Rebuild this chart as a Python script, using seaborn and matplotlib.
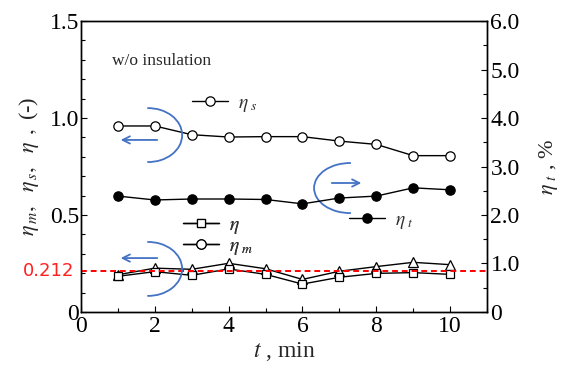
import matplotlib
matplotlib.use("Agg")
import matplotlib.pyplot as plt
from matplotlib.patches import Arc
from matplotlib.lines import Line2D
from matplotlib.ticker import MultipleLocator, FixedLocator, FixedFormatter
import numpy as np
import pandas as pd
import seaborn as sns

# data
t_min = [1, 2, 3, 4, 5, 6, 7, 8, 9, 10]
eta_s = [0.959, 0.959, 0.914, 0.902, 0.904, 0.904, 0.881, 0.864, 0.806, 0.806]
eta_t = [2.39, 2.31, 2.33, 2.33, 2.32, 2.23, 2.35, 2.39, 2.56, 2.52]   # %, right axis
eta = [0.184, 0.208, 0.189, 0.222, 0.194, 0.144, 0.179, 0.199, 0.203, 0.194]
eta_m = [0.192, 0.226, 0.220, 0.251, 0.223, 0.168, 0.210, 0.234, 0.256, 0.244]
eta_ref = 0.212

df = pd.DataFrame({'t': t_min, 'eta_s': eta_s, 'eta_t': eta_t, 'eta': eta, 'eta_m': eta_m})

sns.set_style('ticks')
plt.rcParams['font.family'] = ['Liberation Serif', 'DejaVu Serif']
plt.rcParams['mathtext.fontset'] = 'stix'

fig = plt.figure(figsize=(5.61, 3.69), dpi=100)
ax = fig.add_axes([0.1444, 0.1545, 0.7237, 0.7885])
ax2 = ax.twinx()

blue = '#4472C4'
line_kw = dict(color='black', linewidth=1.0, markeredgecolor='black', markeredgewidth=0.9)

# left axis series
sns.lineplot(data=df, x='t', y='eta_s', ax=ax, marker='o', markersize=6.7,
             markerfacecolor='white', zorder=3, **line_kw)
sns.lineplot(data=df, x='t', y='eta_m', ax=ax, marker='^', markersize=6.8,
             markerfacecolor='white', zorder=3, **line_kw)
sns.lineplot(data=df, x='t', y='eta', ax=ax, marker='s', markersize=6.2,
             markerfacecolor='white', zorder=4, **line_kw)
ax.axhline(eta_ref, color='#ff0000', linestyle=(0, (3, 2)), linewidth=1.4, zorder=5)

# right axis series
sns.lineplot(data=df, x='t', y='eta_t', ax=ax2, marker='o', markersize=6.7,
             markerfacecolor='black', zorder=3, **line_kw)

ax.set_xlim(0, 11)
ax.set_ylim(0, 1.5)
ax2.set_ylim(0, 6)

ax.set_xticks([0, 2, 4, 6, 8, 10])
ax.xaxis.set_minor_locator(MultipleLocator(1))
ax.yaxis.set_major_locator(FixedLocator([0, 0.5, 1.0, 1.5]))
ax.yaxis.set_major_formatter(FixedFormatter(['0', '0.5', '1.0', '1.5']))
ax.yaxis.set_minor_locator(MultipleLocator(0.1))
ax2.yaxis.set_major_locator(FixedLocator([0, 1, 2, 3, 4, 5, 6]))
ax2.yaxis.set_major_formatter(FixedFormatter(['0', '1.0', '2.0', '3.0', '4.0', '5.0', '6.0']))
ax2.yaxis.set_minor_locator(MultipleLocator(0.5))

for a in (ax, ax2):
    a.tick_params(which='both', direction='in', labelsize=17, colors='black', width=0.8)
    a.tick_params(which='major', length=4.5)
    a.tick_params(which='minor', length=3)
    for s in a.spines.values():
        s.set_visible(True)
        s.set_color('black')
        s.set_linewidth(1.0)
ax.tick_params(axis='y', which='both', left=True, right=False, pad=1.5)
ax.tick_params(axis='x', which='both', bottom=True, top=False, pad=3)
ax2.tick_params(axis='y', which='both', right=True, left=False, pad=2.5)

ax.set_xlabel(r'$t$ , min', fontsize=17, labelpad=2)
ax.set_ylabel(r'$\eta_{\,m},\ \ \eta_{\,s},\ \ \eta\ \,,$ (-)', fontsize=16, labelpad=6)
ax2.set_ylabel(r'$\eta_{\ t}$ , %', fontsize=16, labelpad=12)

ax.text(0.076, 0.862, 'w/o insulation', transform=ax.transAxes, fontsize=12.5,
        ha='left', va='center')
ax.text(-0.016, eta_ref, '0.212', transform=ax.get_yaxis_transform(), color='#ff2020',
        fontsize=13, ha='right', va='center', family='DejaVu Sans')

# legends drawn as three separate groups
def handle(face, mk, ms):
    return Line2D([], [], color='black', linewidth=1.0, marker=mk, markersize=ms,
                  markerfacecolor=face, markeredgecolor='black', markeredgewidth=0.9)

leg_kw = dict(frameon=False, fontsize=14, handlelength=1.85, handletextpad=0.5,
              borderpad=0, borderaxespad=0, loc='center left', labelcolor='#333333')
l1 = ax.legend([handle('white', 'o', 6.7)], [r'$\eta_{\ s}$'],
               bbox_to_anchor=(0.273, 0.715), **leg_kw)
ax.add_artist(l1)
l3 = ax.legend([handle('white', 's', 6.2), handle('white', 'o', 6.7)],
               [r'$\eta$', r'$\eta_{\ m}$'], labelspacing=0.05,
               bbox_to_anchor=(0.251, 0.259), **leg_kw)
ax.add_artist(l3)
l2 = ax2.legend([handle('black', 'o', 6.7)], [r'$\eta_{\ t}$'],
                bbox_to_anchor=(0.66, 0.313), **leg_kw)

# blue arcs with arrows indicating the axis of each group
arc_kw = dict(color=blue, linewidth=1.3, zorder=6)
ax.add_patch(Arc((1.82, 0.912), 1.84, 0.278, theta1=-100, theta2=100, **arc_kw))
ax.add_patch(Arc((1.82, 0.222), 1.84, 0.278, theta1=-100, theta2=100, **arc_kw))
ax.add_patch(Arc((7.29, 0.639), 1.95, 0.258, theta1=80, theta2=280, **arc_kw))
arr = dict(arrowstyle='->', color=blue, lw=1.3, mutation_scale=13)
ax.annotate('', xy=(1.0, 0.887), xytext=(2.14, 0.887), arrowprops=arr, zorder=6)
ax.annotate('', xy=(1.0, 0.278), xytext=(2.14, 0.278), arrowprops=arr, zorder=6)
ax.annotate('', xy=(7.67, 0.665), xytext=(6.72, 0.665), arrowprops=arr, zorder=6)

fig.savefig('out.png', dpi=100)
